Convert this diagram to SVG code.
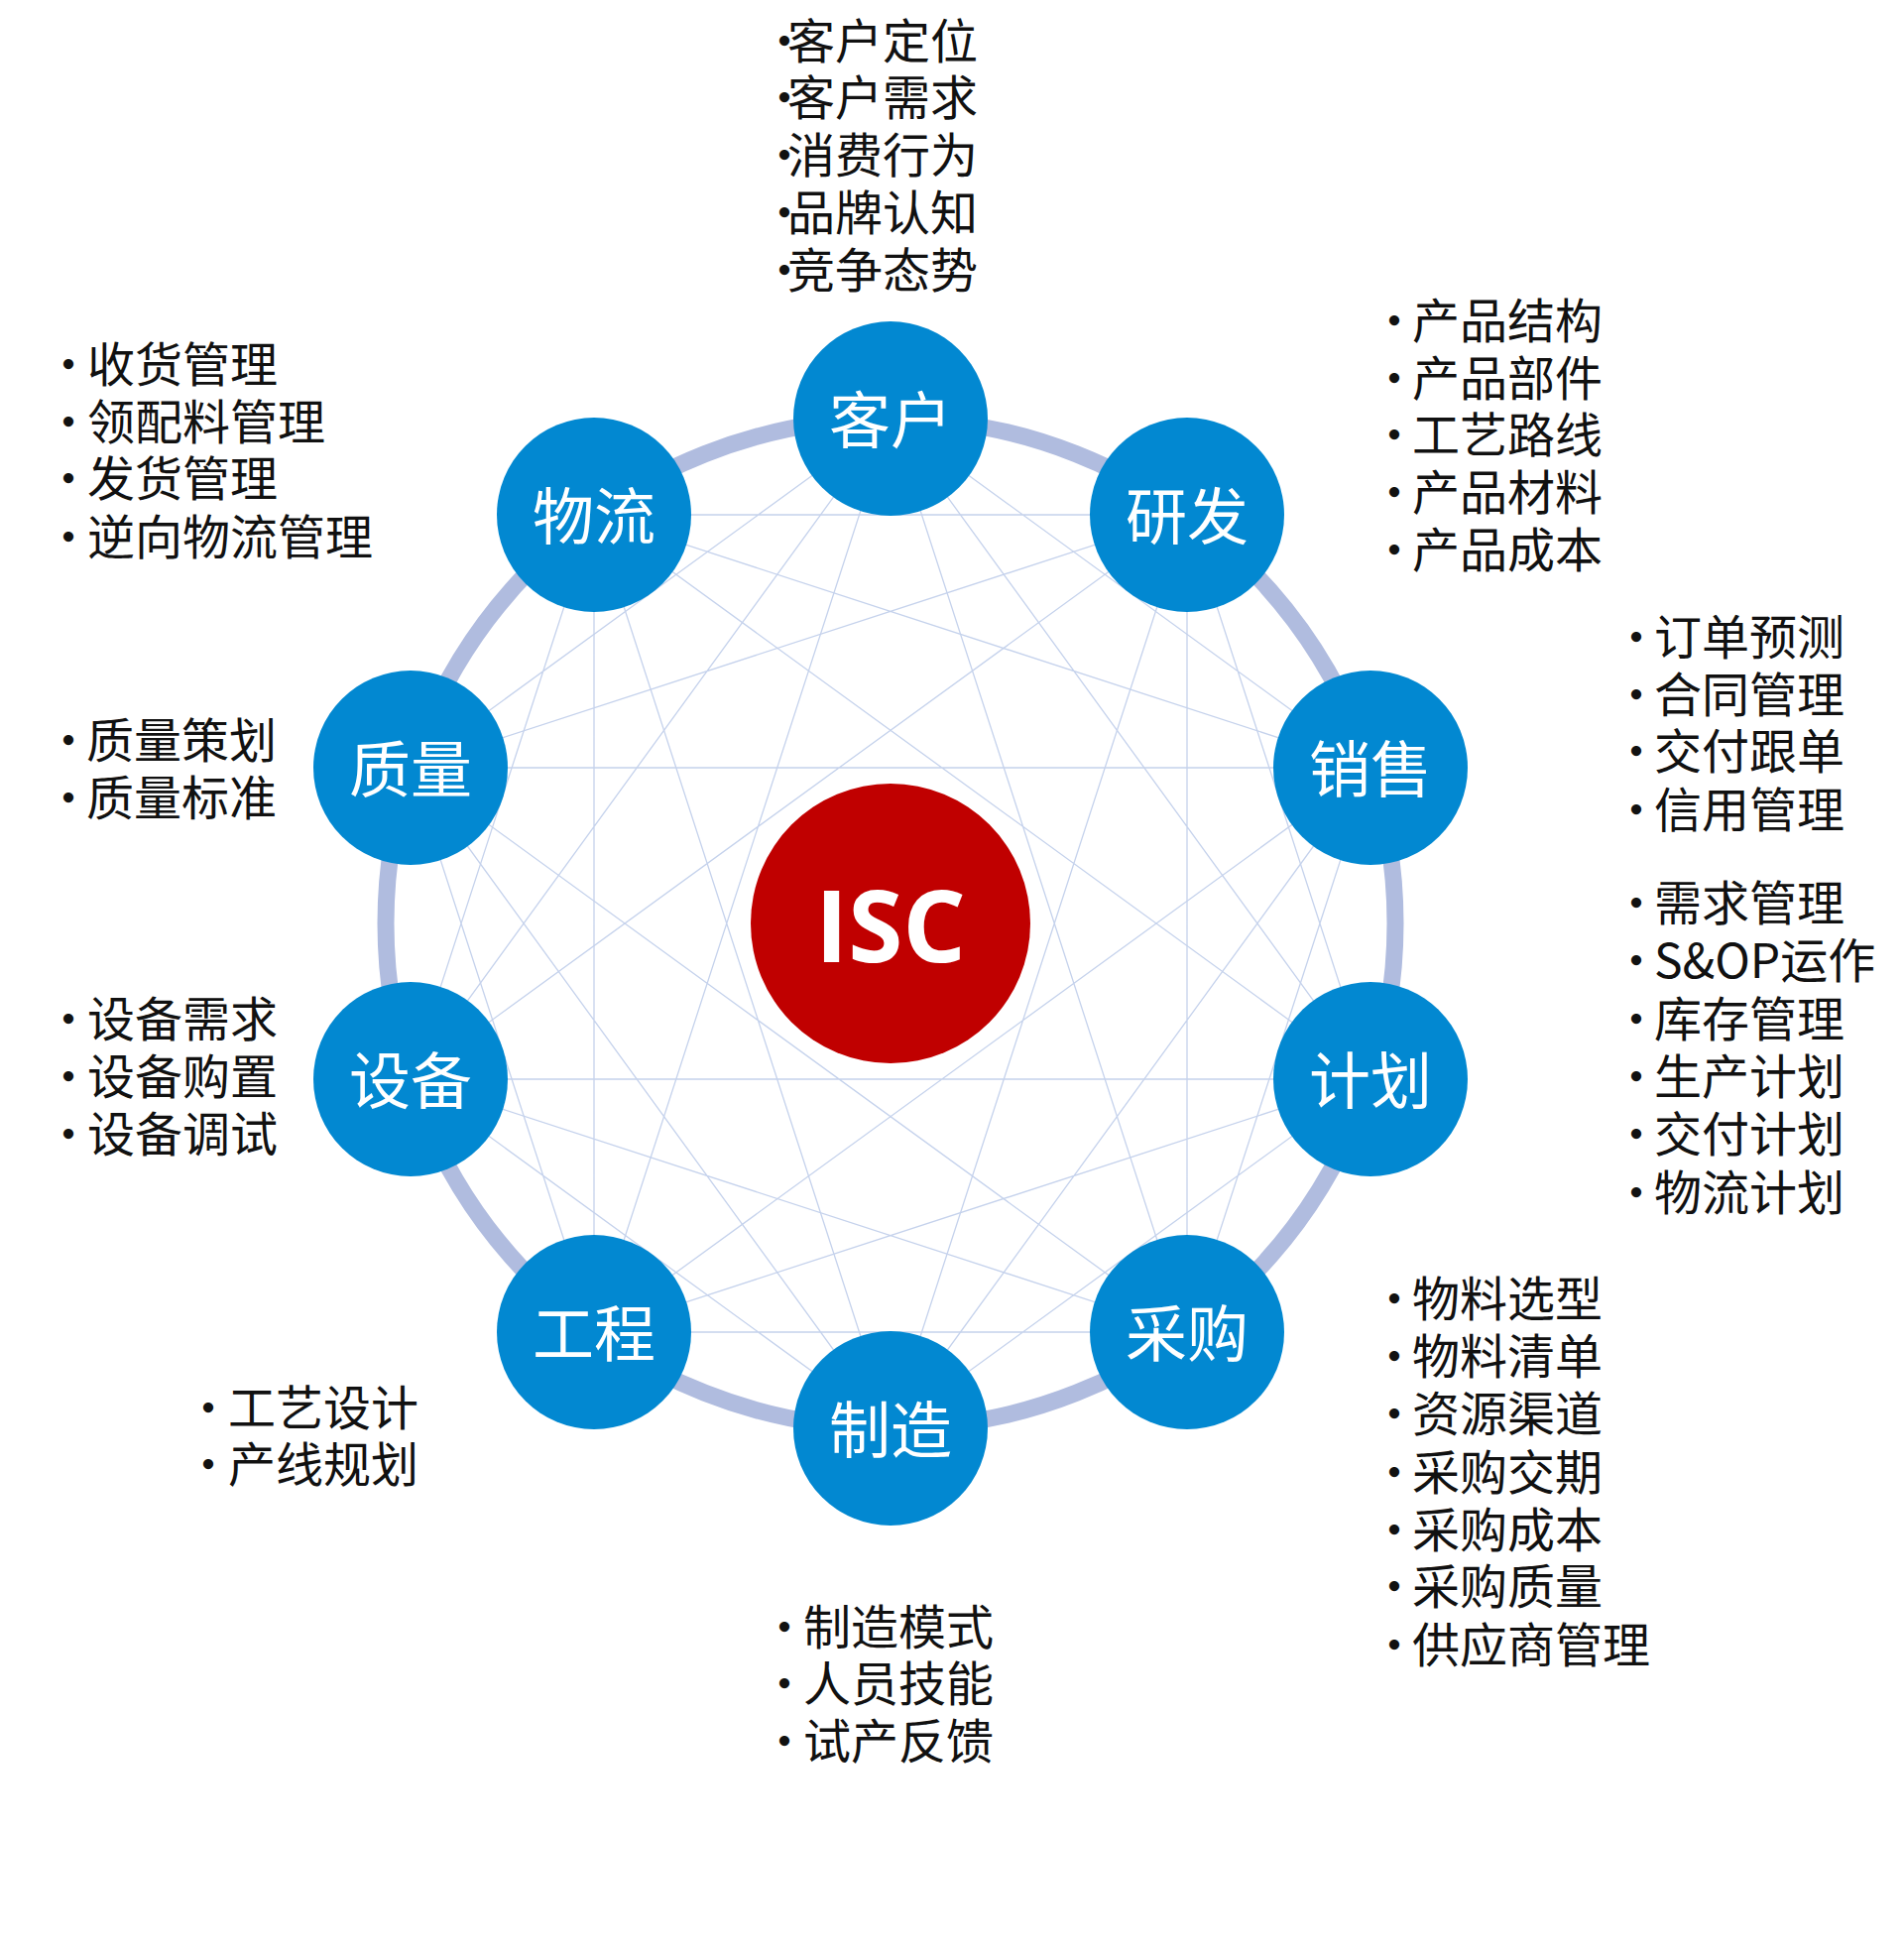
<svg xmlns="http://www.w3.org/2000/svg" width="1920" height="1973" viewBox="0 0 1920 1973">
<style>
.c{stroke:#c5d2ec;stroke-width:1.3;fill:none}
.n{fill:#0288d1}
.nt{font-family:"Noto Sans CJK SC","Noto Sans",sans-serif;font-size:62px;fill:#fff;text-anchor:middle;dominant-baseline:central}
.t{font-family:"Noto Sans CJK SC","Noto Sans",sans-serif;font-size:48px;fill:#111;dominant-baseline:central}
</style>
<rect width="1920" height="1973" fill="#fff"/>
<circle cx="898" cy="931" r="509" fill="none" stroke="#b0bcdf" stroke-width="17"/>
<g id="connectors">
<path class="c" d="M898 422L1382 774M1197 519L1382 1088M1382 774L1197 1343M1382 1088L898 1440M1197 1343L599 1343M898 1440L414 1088M599 1343L414 774M414 1088L599 519M414 774L898 422M599 519L1197 519"/>
<path class="c" d="M898 422L1382 1088M1197 519L1197 1343M1382 774L898 1440M1382 1088L599 1343M1197 1343L414 1088M898 1440L414 774M599 1343L599 519M414 1088L898 422M414 774L1197 519M599 519L1382 774"/>
<path class="c" d="M898 422L1197 1343M1197 519L898 1440M1382 774L599 1343M1382 1088L414 1088M1197 1343L414 774M898 1440L599 519M599 1343L898 422M414 1088L1197 519M414 774L1382 774M599 519L1382 1088"/>
</g>
<g id="isc"><circle cx="898" cy="931" r="141" fill="#c00000"/><text x="898" y="931" text-anchor="middle" dominant-baseline="central" font-family="Open Sans,Noto Sans,sans-serif" font-weight="bold" font-size="100" fill="#fff">ISC</text></g>
<g id="n0"><circle class="n" cx="898" cy="422" r="98"/><text class="nt" x="898" y="420">客户</text></g>
<g id="n1"><circle class="n" cx="1197" cy="519" r="98"/><text class="nt" x="1197" y="517">研发</text></g>
<g id="n2"><circle class="n" cx="1382" cy="774" r="98"/><text class="nt" x="1382" y="772">销售</text></g>
<g id="n3"><circle class="n" cx="1382" cy="1088" r="98"/><text class="nt" x="1382" y="1086">计划</text></g>
<g id="n4"><circle class="n" cx="1197" cy="1343" r="98"/><text class="nt" x="1197" y="1341">采购</text></g>
<g id="n5"><circle class="n" cx="898" cy="1440" r="98"/><text class="nt" x="898" y="1438">制造</text></g>
<g id="n6"><circle class="n" cx="599" cy="1343" r="98"/><text class="nt" x="599" y="1341">工程</text></g>
<g id="n7"><circle class="n" cx="414" cy="1088" r="98"/><text class="nt" x="414" y="1086">设备</text></g>
<g id="n8"><circle class="n" cx="414" cy="774" r="98"/><text class="nt" x="414" y="772">质量</text></g>
<g id="n9"><circle class="n" cx="599" cy="519" r="98"/><text class="nt" x="599" y="517">物流</text></g>
<g id="labels">
<text class="t" y="38"><tspan x="767">•</tspan><tspan x="794">客户定位</tspan></text>
<text class="t" y="95"><tspan x="767">•</tspan><tspan x="794">客户需求</tspan></text>
<text class="t" y="153"><tspan x="767">•</tspan><tspan x="794">消费行为</tspan></text>
<text class="t" y="211"><tspan x="767">•</tspan><tspan x="794">品牌认知</tspan></text>
<text class="t" y="269"><tspan x="767">•</tspan><tspan x="794">竞争态势</tspan></text>

<text class="t" y="320"><tspan x="1382">•</tspan><tspan x="1424">产品结构</tspan></text>
<text class="t" y="378"><tspan x="1382">•</tspan><tspan x="1424">产品部件</tspan></text>
<text class="t" y="435"><tspan x="1382">•</tspan><tspan x="1424">工艺路线</tspan></text>
<text class="t" y="493"><tspan x="1382">•</tspan><tspan x="1424">产品材料</tspan></text>
<text class="t" y="551"><tspan x="1382">•</tspan><tspan x="1424">产品成本</tspan></text>

<text class="t" y="639"><tspan x="1626">•</tspan><tspan x="1668">订单预测</tspan></text>
<text class="t" y="697"><tspan x="1626">•</tspan><tspan x="1668">合同管理</tspan></text>
<text class="t" y="754"><tspan x="1626">•</tspan><tspan x="1668">交付跟单</tspan></text>
<text class="t" y="813"><tspan x="1626">•</tspan><tspan x="1668">信用管理</tspan></text>

<text class="t" y="907"><tspan x="1626">•</tspan><tspan x="1668">需求管理</tspan></text>
<text class="t" y="965"><tspan x="1626">•</tspan><tspan x="1668">S&amp;OP运作</tspan></text>
<text class="t" y="1024"><tspan x="1626">•</tspan><tspan x="1668">库存管理</tspan></text>
<text class="t" y="1082"><tspan x="1626">•</tspan><tspan x="1668">生产计划</tspan></text>
<text class="t" y="1140"><tspan x="1626">•</tspan><tspan x="1668">交付计划</tspan></text>
<text class="t" y="1199"><tspan x="1626">•</tspan><tspan x="1668">物流计划</tspan></text>

<text class="t" y="1306"><tspan x="1382">•</tspan><tspan x="1424">物料选型</tspan></text>
<text class="t" y="1364"><tspan x="1382">•</tspan><tspan x="1424">物料清单</tspan></text>
<text class="t" y="1422"><tspan x="1382">•</tspan><tspan x="1424">资源渠道</tspan></text>
<text class="t" y="1481"><tspan x="1382">•</tspan><tspan x="1424">采购交期</tspan></text>
<text class="t" y="1539"><tspan x="1382">•</tspan><tspan x="1424">采购成本</tspan></text>
<text class="t" y="1596"><tspan x="1382">•</tspan><tspan x="1424">采购质量</tspan></text>
<text class="t" y="1655"><tspan x="1382">•</tspan><tspan x="1424">供应商管理</tspan></text>

<text class="t" y="1637"><tspan x="767">•</tspan><tspan x="810">制造模式</tspan></text>
<text class="t" y="1694"><tspan x="767">•</tspan><tspan x="810">人员技能</tspan></text>
<text class="t" y="1752"><tspan x="767">•</tspan><tspan x="810">试产反馈</tspan></text>

<text class="t" y="1416"><tspan x="186">•</tspan><tspan x="230">工艺设计</tspan></text>
<text class="t" y="1473"><tspan x="186">•</tspan><tspan x="230">产线规划</tspan></text>

<text class="t" y="1024"><tspan x="45">•</tspan><tspan x="88">设备需求</tspan></text>
<text class="t" y="1082"><tspan x="45">•</tspan><tspan x="88">设备购置</tspan></text>
<text class="t" y="1140"><tspan x="45">•</tspan><tspan x="88">设备调试</tspan></text>

<text class="t" y="743"><tspan x="45">•</tspan><tspan x="87">质量策划</tspan></text>
<text class="t" y="801"><tspan x="45">•</tspan><tspan x="87">质量标准</tspan></text>

<text class="t" y="364"><tspan x="45">•</tspan><tspan x="88">收货管理</tspan></text>
<text class="t" y="422"><tspan x="45">•</tspan><tspan x="88">领配料管理</tspan></text>
<text class="t" y="479"><tspan x="45">•</tspan><tspan x="88">发货管理</tspan></text>
<text class="t" y="538"><tspan x="45">•</tspan><tspan x="88">逆向物流管理</tspan></text>
</g>
</svg>
